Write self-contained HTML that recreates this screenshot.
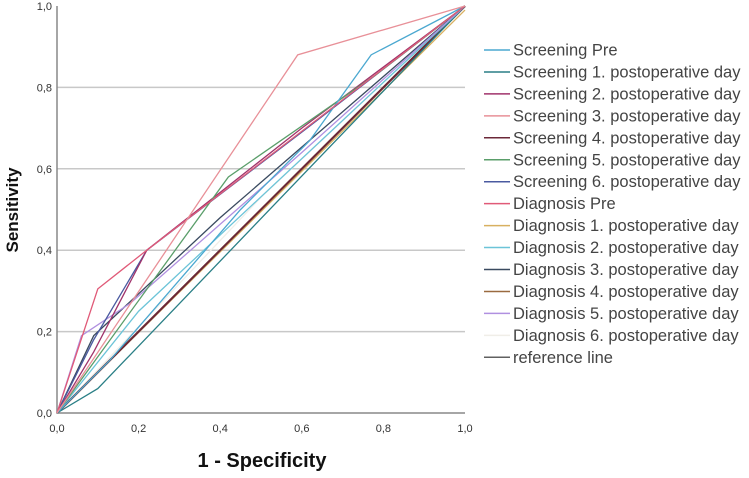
<!DOCTYPE html>
<html><head><meta charset="utf-8"><style>
html,body{margin:0;padding:0;background:#fff;}
svg{display:block;font-family:"Liberation Sans",Arial,sans-serif;}
</style></head><body>
<svg id="chart" width="749" height="478"></svg>
<script>
const xTicks=[0,0.2,0.4,0.6,0.8,1.0];
const yTicks=[0,0.2,0.4,0.6,0.8,1.0];
const tickLabels=["0,0","0,2","0,4","0,6","0,8","1,0"];
const seriesNames=["Screening Pre","Screening 1. postoperative day","Screening 2. postoperative day","Screening 3. postoperative day","Screening 4. postoperative day","Screening 5. postoperative day","Screening 6. postoperative day","Diagnosis Pre","Diagnosis 1. postoperative day","Diagnosis 2. postoperative day","Diagnosis 3. postoperative day","Diagnosis 4. postoperative day","Diagnosis 5. postoperative day","Diagnosis 6. postoperative day","reference line"];
const seriesColors=["#4ba8d0","#2a7f86","#a0336b","#e89098","#6b2838","#5a9e6a","#4a5aa0","#e05a78","#d8b060","#6cc4d8","#3a4a60","#9a6a40","#b090e0","#f0eee8","#606060"];
const sx0=[0,0.13,0.45,0.62,0.77,1];
const sy0=[0,0.13,0.5,0.67,0.88,1];
const sx1=[0,0.1,1];
const sy1=[0,0.06,1];
const sx2=[0,0.09,0.22,0.6,1];
const sy2=[0,0.15,0.4,0.7,1];
const sx3=[0,0.59,1];
const sy3=[0,0.88,1];
const sx4=[0,1];
const sy4=[0,1];
const sx5=[0,0.42,0.78,1];
const sy5=[0,0.58,0.83,1];
const sx6=[0,0.09,0.22,0.6,1];
const sy6=[0,0.18,0.4,0.69,1];
const sx7=[0,0.1,0.22,1];
const sy7=[0,0.305,0.4,1];
const sx8=[0,1];
const sy8=[0,0.99];
const sx9=[0,0.2,1];
const sy9=[0,0.25,1];
const sx10=[0,0.09,0.4,1];
const sy10=[0,0.19,0.48,1];
const sx11=[0,1];
const sy11=[0,1];
const sx12=[0,0.06,0.18,0.6,1];
const sy12=[0,0.19,0.27,0.64,1];
const sx13=[0,0.5,1];
const sy13=[0,0.53,1];
const sx14=[0,1];
const sy14=[0,1];
const allX=[sx0,sx1,sx2,sx3,sx4,sx5,sx6,sx7,sx8,sx9,sx10,sx11,sx12,sx13,sx14];
const allY=[sy0,sy1,sy2,sy3,sy4,sy5,sy6,sy7,sy8,sy9,sy10,sy11,sy12,sy13,sy14];

const NS="http://www.w3.org/2000/svg";
const svg=document.getElementById('chart');
const L=57,R=465,T=6,B=413;
const X=v=>L+v*(R-L), Y=v=>B-v*(B-T);
function mk(t,a){const e=document.createElementNS(NS,t);for(const k in a)e.setAttribute(k,a[k]);svg.appendChild(e);return e;}

yTicks.forEach((v,i)=>{
  if(v>0&&v<1){const g=mk('line',{x1:L,x2:R,y1:Y(v),y2:Y(v),stroke:'#c8c8c8','stroke-width':1.5});
  
  }
  const t=mk('text',{x:L-5,y:Y(v)+4,'text-anchor':'end','font-size':11,fill:'#333'});t.textContent=tickLabels[i];
  
  
});
xTicks.forEach((v,i)=>{
  const t=mk('text',{x:X(v),y:B+19,'text-anchor':'middle','font-size':11,fill:'#333'});t.textContent=tickLabels[i];
  
  
});
const ax=mk('path',{d:`M${L},${T}V${B}H${R}`,fill:'none',stroke:'#888','stroke-width':1.5});



const order=[14,13,11,8,4,1,9,10,12,6,2,5,0,7,3];
order.forEach(i=>{
  const pts=allX[i].map((x,j)=>X(x)+','+Y(allY[i][j])).join(' ');
  const p=mk('polyline',{points:pts,fill:'none',stroke:seriesColors[i],'stroke-width':(i==11||i==4||i==14)?2:1.3});
  
  
});

seriesNames.forEach((n,i)=>{
  const y=50+i*21.95;
  const l=mk('line',{x1:484,x2:510,y1:y,y2:y,stroke:seriesColors[i],'stroke-width':1.5});
  
  
  const t=mk('text',{x:513,y:y+5.5,'font-size':16.5,fill:'#444'});t.textContent=n;
  
  
});

const xt=mk('text',{x:262,y:467,'text-anchor':'middle','font-size':20,'font-weight':'bold',fill:'#111'});xt.textContent='1 - Specificity';


const yt=mk('text',{x:0,y:0,'text-anchor':'middle','font-size':17,'font-weight':'bold',fill:'#111',transform:'translate(18,210) rotate(-90)'});yt.textContent='Sensitivity';


</script>
</body></html>
